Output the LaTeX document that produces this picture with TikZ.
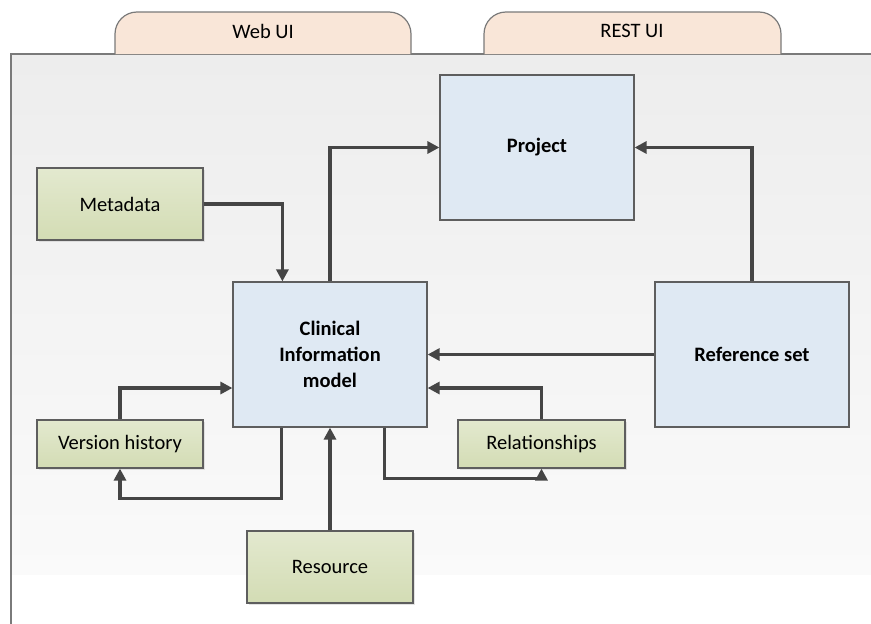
\documentclass[tikz,border=0pt]{standalone}
\usepackage{fontspec}
\setmainfont{Carlito}
\usetikzlibrary{arrows.meta,calc,shadows}
\definecolor{panelTop}{HTML}{EDEDED}
\definecolor{panelBot}{HTML}{FAFAFA}
\definecolor{tabFill}{HTML}{F9E6D8}
\definecolor{tabLine}{HTML}{7A7A7A}
\definecolor{blueFill}{HTML}{DFE9F3}
\definecolor{greenTop}{HTML}{E3E9CF}
\definecolor{greenBot}{HTML}{D3DCB4}
\definecolor{boxLine}{HTML}{5E5E5E}
\definecolor{wire}{HTML}{454545}
\tikzset{
  txt/.style={font=\fontsize{20.5}{24}\selectfont},
  bigbox/.style={draw=boxLine, line width=1.2pt, fill=blueFill, rectangle,
    minimum width=194pt, minimum height=145pt, inner sep=0pt,
    align=center, font=\fontsize{20.5}{26}\selectfont\bfseries},
  smallbox/.style={draw=boxLine, line width=1.2pt, rectangle, inner sep=0pt,
    top color=greenTop, bottom color=greenBot,
    drop shadow={shadow xshift=2pt, shadow yshift=-2pt, fill=black!18, opacity=0.6},
    minimum width=166pt, txt},
  arr/.style={draw=wire, line width=3.3pt,
    -{Triangle[length=12pt,width=12pt]}},
  tab/.style={draw=tabLine, line width=1.2pt, fill=tabFill, rounded corners=22pt},
}
\begin{document}
\begin{tikzpicture}[x=1pt,y=-1pt]
\useasboundingbox (0,0) rectangle (871,624);
\fill[white] (0,0) rectangle (871,624);
% background panel
\shade[top color=panelTop, bottom color=panelBot] (11,54) rectangle (871,574);
\draw[tabLine, line width=1.4pt] (11,624) -- (11,54) -- (871,54);
% tabs on top of the panel
\filldraw[tab] (115,54) |- (411,12) -- (411,54);
\filldraw[tab] (484,54) |- (781,12) -- (781,54);
\node[txt] (webui) at (263,31) {Web UI};
\node[txt] (restui) at (632,31) {REST UI};
% main blocks
\node[bigbox] (project) at (537,147.5) {Project};
\node[bigbox] (cim) at (330,354.5) {Clinical\\Information\\model};
\node[bigbox] (refset) at (752,354.5) {Reference set};
% satellite blocks
\node[smallbox, minimum height=72pt] (meta) at (120,204) {Metadata};
\node[smallbox, minimum height=48pt] (version) at (120,444) {Version history};
\node[smallbox, minimum height=48pt, minimum width=167pt] (rel) at (541.5,444) {Relationships};
\node[smallbox, minimum height=72pt] (resource) at (330,567) {Resource};
% connectors
\draw[arr] (meta.east) -| ($(cim.north west)+(50,0)$);
\draw[arr] (cim.north) |- (project.west);
\draw[arr] (refset.north) |- (project.east);
\draw[arr] (refset.west) -- (cim.east);
\draw[arr] (version.north) |- ($(cim.west)+(0,33.5)$);
\draw[arr] ($(cim.south west)+(49,0)$) -- ++(0,71) -| (version.south);
\draw[arr] (resource.north) -- (cim.south);
\draw[arr] (rel.north) |- ($(cim.east)+(0,33.5)$);
\draw[arr] ($(cim.south west)+(152,0)$) -- ++(0,51) -| (rel.south);
\end{tikzpicture}
\end{document}
